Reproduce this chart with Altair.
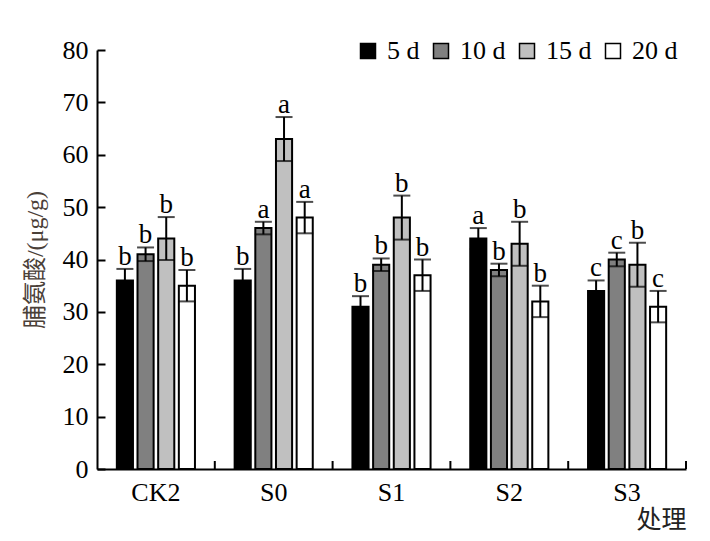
import altair as alt
import pandas as pd

# treatments on the x axis and sampling days in the legend
groups = ["CK2", "S0", "S1", "S2", "S3"]
days = ["5 d", "10 d", "15 d", "20 d"]

# proline content (ug/g), one list per day
mean_5 = [36, 36, 31, 44, 34]
mean_10 = [41, 46, 39, 38, 40]
mean_15 = [44, 63, 48, 43, 39]
mean_20 = [35, 48, 37, 32, 31]

err_5 = [2.2, 2.2, 2.0, 2.0, 2.0]
err_10 = [1.3, 1.2, 1.2, 1.2, 1.3]
err_15 = [4.1, 4.2, 4.2, 4.2, 4.2]
err_20 = [3.0, 3.0, 3.0, 3.0, 3.0]

sig_5 = ["b", "b", "b", "a", "c"]
sig_10 = ["b", "a", "b", "b", "c"]
sig_15 = ["b", "a", "b", "b", "b"]
sig_20 = ["b", "a", "b", "b", "c"]

fills = ["#000000", "#808080", "#c0c0c0", "#ffffff"]

rows = []
for day, m, e, s in zip(days, [mean_5, mean_10, mean_15, mean_20],
                        [err_5, err_10, err_15, err_20],
                        [sig_5, sig_10, sig_15, sig_20]):
    for g, mv, ev, sv in zip(groups, m, e, s):
        rows.append({"group": g, "day": day, "mean": mv,
                     "lo": mv - ev, "hi": mv + ev, "sig": sv})
df = pd.DataFrame(rows)
gdf = pd.DataFrame({"group": groups})

W, H = 589, 419
SERIF = "Liberation Serif"
CJK = "Liberation Serif, Noto Sans CJK SC"

x = alt.X("group:N", sort=groups,
          scale=alt.Scale(paddingInner=0, paddingOuter=0),
          axis=alt.Axis(title="处理", ticks=False, labelAngle=0,
                        labelFont=SERIF, labelFontSize=26, labelColor="black",
                        labelPadding=10, domainWidth=2, domainColor="black",
                        titleFont=CJK, titleFontSize=25, titleFontWeight="normal",
                        titleColor="#222", titleAnchor="end", titlePadding=2))
xo = alt.XOffset("day:N", sort=days,
                 scale=alt.Scale(paddingInner=0.22, paddingOuter=0.96))
# negative tick size draws the ticks inward; label padding makes up for it
y_axis = alt.Axis(title="脯氨酸/(μg/g)", values=list(range(0, 90, 10)),
                  grid=False, tickSize=alt.ExprRef(expr="-8"), tickWidth=2,
                  tickColor="black", domainWidth=2, domainColor="black",
                  labelFont=SERIF, labelFontSize=26, labelColor="black",
                  labelPadding=17,
                  titleFont=CJK, titleFontSize=24, titleFontWeight="normal",
                  titleColor="#4a4038", titlePadding=15)
yscale = alt.Scale(domain=[0, 80], nice=False)

bars = alt.Chart(df).mark_bar(stroke="black", strokeWidth=2).encode(
    x=x, xOffset=xo,
    y=alt.Y("mean:Q", scale=yscale, axis=y_axis),
    fill=alt.Fill("day:N", sort=days,
                  scale=alt.Scale(domain=days, range=fills),
                  legend=alt.Legend(orient="none", legendX=258, legendY=-12,
                                    direction="horizontal", title=None,
                                    symbolType="square", symbolSize=225,
                                    symbolStrokeColor="black",
                                    symbolStrokeWidth=1.5, symbolOpacity=1,
                                    labelFont=SERIF, labelFontSize=26,
                                    labelColor="black", labelOffset=6,
                                    columnPadding=8)),
)

stems = alt.Chart(df).mark_rule(color="black", strokeWidth=2).encode(
    x=x, xOffset=xo, y=alt.Y("lo:Q", scale=yscale), y2="hi:Q")

cap_hi = alt.Chart(df).mark_tick(color="black", thickness=2, size=17,
                                 orient="horizontal").encode(
    x=x, xOffset=xo, y=alt.Y("hi:Q", scale=yscale))
cap_lo = alt.Chart(df).mark_tick(color="black", thickness=2, size=17,
                                 orient="horizontal").encode(
    x=x, xOffset=xo, y=alt.Y("lo:Q", scale=yscale))

letters = alt.Chart(df).mark_text(font=SERIF, fontSize=27, color="black",
                                  baseline="alphabetic", dy=-4).encode(
    x=x, xOffset=xo, y=alt.Y("hi:Q", scale=yscale), text="sig:N")

# inward ticks at the group boundaries of the x axis
xticks = alt.Chart(gdf).mark_rule(color="black", strokeWidth=2).encode(
    x=alt.X("group:N", sort=groups, bandPosition=1),
    y=alt.value(H), y2=alt.value(H - 8))

chart = alt.layer(bars, stems, cap_hi, cap_lo, letters, xticks).properties(
    width=W, height=H,
    autosize=alt.AutoSizeParams(type="none"),
    padding={"left": 89, "top": 42, "right": 16, "bottom": 64},
).configure(font=SERIF).configure_view(stroke=None)

chart.save("out.html", embed_options={"renderer": "svg", "actions": False})
